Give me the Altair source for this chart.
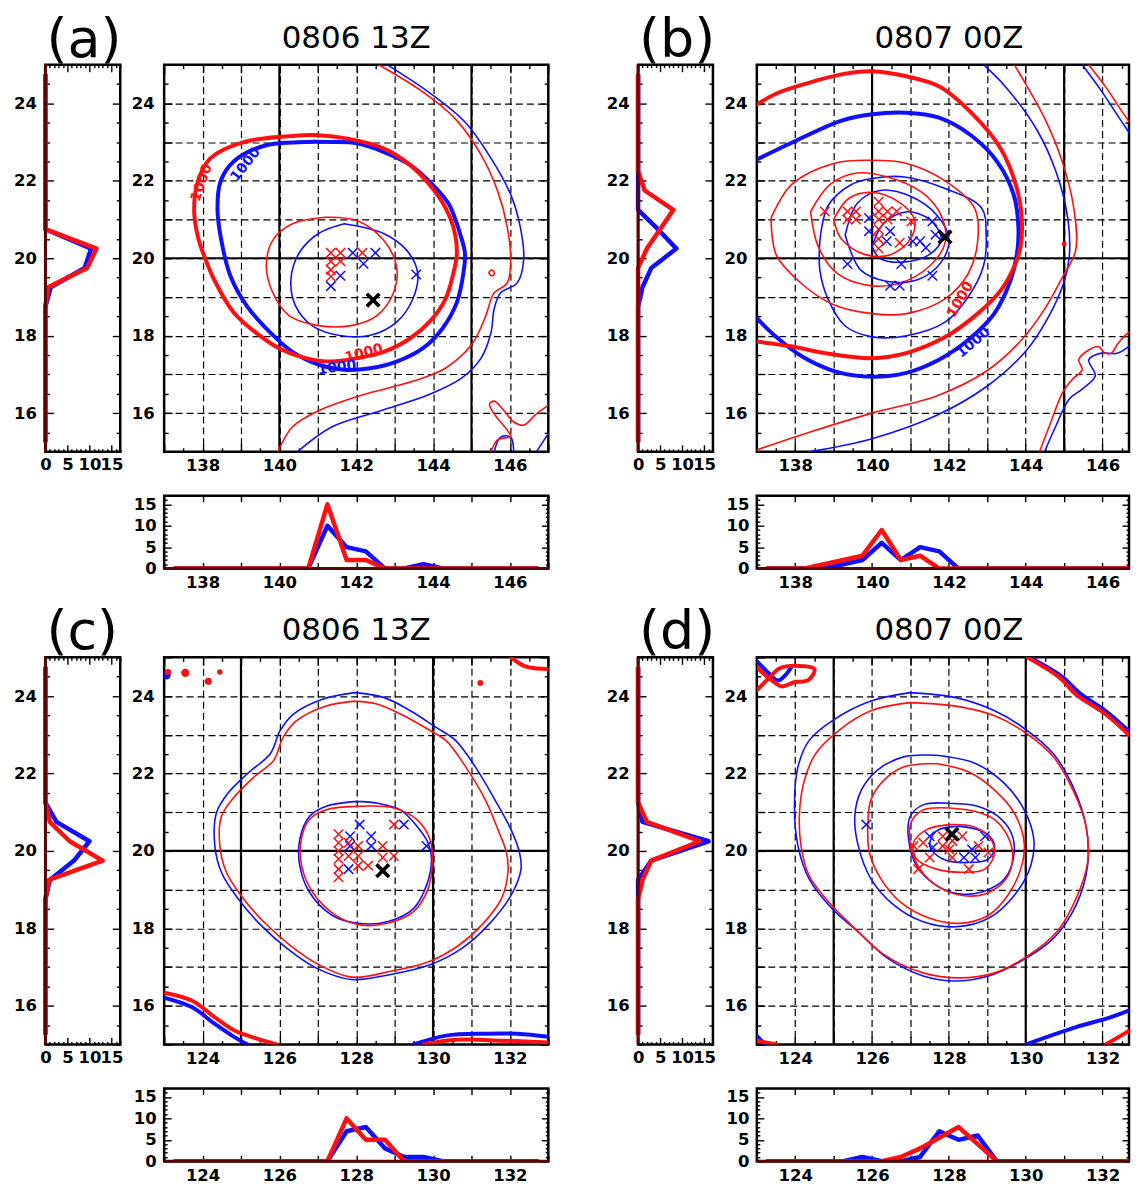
import altair as alt
import pandas as pd

RED = "#ff1010"
BLUE = "#1010ff"
BASE = "#5a0505"
LF = "DejaVu Sans"
W, H, HW, BH = 385, 388, 75, 73
WR = 373          # right-hand panels, cropped by the page edge as in the reference
THICK, THIN, HLW = 4.0, 1.6, 4.5
XPATH = "M-1,-1L1,1M-1,1L1,-1"

# ---------------- panel (a) ----------------
A_R_THICK = [(140.34,23.16),(139.07,23.0),(138.2,22.58),(137.88,21.99),(137.78,21.23),(137.88,20.55),(138.05,20.04),(138.3,19.45),(138.81,18.6),(139.49,18.0),(140.0,17.67),(140.68,17.42),(141.36,17.33),(142.03,17.42),(142.71,17.58),(143.39,17.92),(143.9,18.35),(144.32,18.94),(144.53,19.62),(144.62,20.13),(144.53,20.8),(144.32,21.31),(143.9,21.91),(143.39,22.42),(142.71,22.84),(141.78,23.09),(141.02,23.18),(140.34,23.16)]
A_B_THICK = [(141.36,23.0),(139.66,22.92),(138.81,22.5),(138.47,21.99),(138.39,21.23),(138.52,20.3),(138.73,19.53),(139.15,18.77),(139.75,18.09),(140.34,17.58),(141.02,17.25),(141.69,17.12),(142.37,17.16),(143.05,17.33),(143.73,17.67),(144.24,18.18),(144.62,18.86),(144.79,19.62),(144.83,20.13),(144.7,20.64),(144.62,20.89),(144.41,21.4),(143.98,21.91),(143.39,22.42),(142.71,22.75),(142.03,22.97),(141.36,23.0)]
A_R_IN = [(141.19,21.06),(142.03,20.97),(142.71,20.47),(143.05,19.79),(142.97,19.11),(142.54,18.52),(141.86,18.26),(141.02,18.26),(140.25,18.52),(139.83,19.11),(139.66,19.79),(139.83,20.47),(140.34,20.89),(141.19,21.06)]
A_B_IN = [(141.69,20.89),(142.71,20.64),(143.31,20.21),(143.6,19.62),(143.47,18.94),(143.05,18.35),(142.37,18.01),(141.53,18.01),(140.85,18.26),(140.42,18.77),(140.3,19.45),(140.51,20.13),(141.02,20.64),(141.69,20.89)]
A_R_OUT = [(142.58,25.0),(143.64,24.36),(144.58,23.6),(145.25,22.67),(145.68,21.74),(145.93,20.81),(146.02,19.96),(145.93,19.36),(145.59,19.11),(145.51,18.94),(145.34,18.43),(144.99,17.75),(144.32,17.16),(143.47,16.82),(142.2,16.48),(141.02,16.06),(140.34,15.64),(139.96,15.0)]
A_B_OUT = [(142.8,25.0),(143.9,24.28),(144.83,23.52),(145.51,22.58),(146.02,21.65),(146.27,20.81),(146.36,19.96),(146.19,19.36),(145.76,19.11),(145.59,18.69),(145.51,18.09),(145.25,17.42),(144.75,16.91),(143.9,16.48),(142.63,16.06),(141.36,15.64),(140.47,15.0)]
A_R_SE = [(147.0,16.2),(146.69,15.98),(146.36,15.69),(146.1,15.77),(145.85,16.06),(145.59,16.31),(145.47,16.23),(145.59,15.98),(145.93,15.56),(146.02,15.4),(145.68,15.31),(145.51,15.0)]
A_B_SE1 = [(145.59,15.0),(145.76,15.38),(146.02,15.38),(146.1,15.0)]
A_B_SE2 = [(146.69,15.0),(147.0,15.47)]
A_R_LOOP = [(145.45,19.62),(145.5,19.69),(145.58,19.66),(145.59,19.58),(145.52,19.55),(145.45,19.62)]
A_RED_X = [(141.34,20.14),(141.59,20.14),(142.16,20.14),(141.34,19.92),(141.59,19.92),(141.34,19.70),(141.34,19.53)]
A_BLUE_X = [(141.91,20.14),(142.5,20.14),(142.19,19.86),(141.59,19.55),(141.34,19.28),(143.56,19.58)]
A_BLACK = (142.44, 18.92)
A_TEXT = [(137.98,21.95,290,RED),(139.12,22.42,308,BLUE),(142.2,17.54,345,RED),(141.5,17.17,352,BLUE)]

# ---------------- panel (b) ----------------
B_R_THICK = [(137.0,23.97),(137.5,24.25),(138.35,24.53),(139.2,24.75),(140.0,24.83),(140.89,24.7),(141.74,24.44),(142.58,23.76),(143.35,22.83),(143.77,21.8),(143.9,20.95),(143.86,20.27),(143.69,19.76),(143.35,19.17),(142.75,18.57),(141.91,17.97),(140.89,17.55),(140.0,17.42),(138.77,17.55),(137.92,17.72),(137.0,17.85)]
B_B_THICK = [(137.0,22.55),(137.92,22.99),(139.19,23.55),(140.0,23.72),(140.89,23.76),(141.74,23.63),(142.58,23.17),(143.26,22.49),(143.69,21.63),(143.81,20.78),(143.77,20.1),(143.6,19.42),(143.18,18.57),(142.5,17.89),(141.74,17.38),(140.89,17.04),(140.0,16.94),(139.03,17.08),(138.18,17.46),(137.5,17.97),(137.0,18.45)]
B_R_RING1 = [(137.37,21.04),(137.9,21.9),(139.0,22.45),(140.0,22.53),(140.9,22.45),(141.9,22.0),(142.67,21.29),(142.75,20.45),(142.5,19.6),(141.9,18.95),(140.9,18.57),(140.0,18.57),(139.0,18.8),(138.1,19.4),(137.5,20.1),(137.37,21.04)]
B_B_RING1 = [(138.64,20.44),(138.85,21.35),(139.45,21.9),(140.0,22.06),(140.85,22.1),(141.9,21.8),(142.85,21.3),(142.97,20.6),(142.9,19.8),(142.5,19.0),(141.9,18.35),(140.9,18.0),(140.0,17.97),(139.3,18.25),(138.85,18.95),(138.64,19.7),(138.64,20.44)]
B_R_RING2 = [(138.4,21.2),(138.9,21.9),(139.6,22.2),(140.4,22.1),(141.3,21.7),(141.8,21.1),(141.9,20.4),(141.5,19.8),(140.7,19.35),(139.9,19.3),(139.1,19.6),(138.6,20.3),(138.4,21.2)]
B_B_RING2 = [(139.3,20.6),(139.6,21.4),(140.2,21.75),(141.0,21.6),(141.7,21.1),(142.0,20.5),(141.8,19.9),(141.2,19.45),(140.4,19.4),(139.7,19.7),(139.3,20.6)]
B_R_RING3 = [(139.0,21.0),(139.4,21.55),(140.0,21.7),(140.7,21.45),(141.1,21.0),(141.0,20.5),(140.5,20.1),(139.8,20.1),(139.2,20.5),(139.0,21.0)]
B_B_RING3 = [(140.0,20.3),(140.3,20.9),(140.9,21.2),(141.5,21.0),(141.8,20.5),(141.5,20.1),(140.8,19.9),(140.2,20.0),(140.0,20.3)]
B_R_OUT = [(137.0,15.05),(138.35,15.5),(140.0,16.0),(141.7,16.45),(143.0,17.1),(143.9,17.9),(144.5,18.7),(144.95,19.5),(145.3,20.2),(145.25,21.3),(144.95,22.5),(144.5,23.6),(144.0,24.5),(143.7,25.0)]
B_B_OUT = [(138.35,15.0),(140.0,15.34),(141.7,15.95),(143.0,16.7),(144.0,17.6),(144.6,18.5),(145.0,19.4),(145.13,20.0),(145.1,21.0),(144.8,22.2),(144.3,23.3),(143.5,24.4),(142.9,25.0)]
B_R_NE = [(145.64,25.0),(146.1,24.4),(146.5,23.8),(147.0,23.1)]
B_B_NE = [(145.47,25.0),(145.95,24.35),(146.45,23.6),(147.0,22.8)]
B_R_SE = [(144.36,15.0),(144.62,15.68),(144.96,16.53),(145.21,16.87),(145.47,17.12),(145.38,17.38),(145.64,17.63),(145.89,17.72),(146.06,17.55),(146.23,17.55),(146.4,17.8),(146.65,18.06),(147.0,18.3)]
B_B_SE = [(144.49,15.0),(144.79,15.68),(145.13,16.36),(145.47,16.62),(145.81,16.96),(145.64,17.38),(145.97,17.55),(146.4,17.55),(147.0,18.0)]
B_RED_X = [(138.77,21.21),(139.36,21.21),(139.58,21.21),(139.36,21.0),(139.58,21.0),(140.17,21.46),(140.17,21.21),(140.17,21.0),(140.17,20.75),(140.17,20.5),(140.17,20.25),(140.4,21.21),(140.4,21.0),(140.64,21.21),(141.02,20.95),(140.72,20.4)]
B_BLUE_X = [(139.92,21.04),(139.92,20.7),(140.47,20.7),(140.38,20.44),(141.06,20.44),(141.25,20.44),(141.4,20.27),(141.57,20.95),(141.65,20.61),(139.36,19.85),(140.76,19.85),(140.47,19.29),(140.72,19.29),(141.57,19.55)]
B_BLACK = (141.9, 20.55)
B_TEXT = [(142.3,18.93,300,RED),(142.64,17.82,320,BLUE)]
B_DOTS = [(145.0,20.37,RED,25)]

# ---------------- panel (c) ----------------
C_B_OUT = [(127.97,24.09),(127.12,23.92),(126.36,23.53),(126.02,23.11),(125.76,22.51),(125.17,22.0),(124.66,21.49),(124.36,20.98),(124.32,20.13),(124.49,19.45),(124.92,18.77),(125.51,18.09),(126.19,17.49),(126.95,16.98),(127.88,16.68),(128.9,16.81),(129.92,17.06),(130.76,17.49),(131.44,18.09),(132.03,18.85),(132.29,19.53),(132.25,19.96),(132.03,20.55),(131.61,21.32),(131.1,22.17),(130.59,22.85),(130.08,23.19),(129.41,23.62),(128.73,23.96),(127.97,24.09)]
C_R_OUT = [(127.97,23.87),(127.2,23.74),(126.44,23.36),(126.1,22.94),(125.85,22.34),(125.34,21.91),(124.83,21.4),(124.49,20.89),(124.45,20.13),(124.62,19.45),(125.0,18.85),(125.59,18.17),(126.27,17.57),(127.03,17.06),(127.88,16.74),(128.9,16.89),(129.92,17.15),(130.68,17.57),(131.27,18.09),(131.78,18.77),(131.95,19.45),(131.91,19.96),(131.69,20.55),(131.36,21.32),(130.85,22.17),(130.34,22.85),(129.92,23.11),(129.24,23.49),(128.56,23.79),(127.97,23.87)]
C_B_IN = [(128.01,21.28),(127.2,21.15),(126.78,20.89),(126.53,20.3),(126.53,19.62),(126.78,18.94),(127.37,18.34),(128.05,18.13),(128.81,18.17),(129.49,18.51),(129.83,19.11),(129.96,19.79),(129.87,20.21),(129.58,20.64),(129.15,21.06),(128.56,21.23),(128.01,21.28)]
C_R_IN = [(127.97,21.15),(127.2,21.06),(126.78,20.81),(126.57,20.3),(126.58,19.62),(126.86,18.94),(127.46,18.34),(128.09,18.09),(128.81,18.13),(129.49,18.43),(129.87,19.02),(129.98,19.7),(129.92,20.3),(129.58,20.81),(128.98,21.11),(127.97,21.15)]
C_R_SW = [(123.0,16.34),(123.73,16.13),(124.32,15.7),(124.83,15.36),(125.42,15.15),(125.93,15.0)]
C_B_SW = [(123.0,16.21),(123.73,15.96),(124.32,15.53),(124.83,15.19),(125.17,15.0)]
C_B_SE = [(129.49,15.0),(130.34,15.23),(131.36,15.28),(132.2,15.28),(133.0,15.2)]
C_R_SE = [(129.75,15.0),(130.6,15.12),(131.8,15.1),(133.0,15.05)]
C_R_NE = [(132.03,25.0),(132.4,24.77),(133.0,24.7)]
C_RED_X = [(127.54,20.43),(127.54,20.21),(127.54,20.0),(127.54,19.79),(127.54,19.53),(127.54,19.32),(127.8,20.21),(127.8,19.87),(128.05,20.13),(128.05,19.87),(128.05,19.62),(128.31,19.62),(128.69,20.13),(128.69,19.83),(128.98,19.87),(128.98,20.68)]
C_BLUE_X = [(127.84,20.38),(128.09,20.68),(128.39,20.38),(127.84,20.13),(128.39,20.13),(127.8,19.53),(129.24,20.68),(129.83,20.13)]
C_BLACK = (128.69, 19.49)
C_DOTS = [(123.05,24.55,BLUE,90),(123.1,24.62,RED,40),(123.55,24.6,RED,70),(124.15,24.38,RED,50),(124.45,24.62,RED,30),(131.23,24.34,RED,35)]

# ---------------- panel (d) ----------------
D_B_OUT = [(126.99,24.09),(125.97,23.87),(124.96,23.36),(124.36,22.85),(124.07,22.17),(123.98,21.15),(124.07,20.13),(124.36,19.28),(124.96,18.51),(125.64,17.91),(126.4,17.23),(127.33,16.77),(128.18,16.64),(129.03,16.77),(129.87,17.15),(130.72,17.74),(131.31,18.6),(131.61,19.62),(131.57,20.64),(131.23,21.66),(130.72,22.51),(130.04,23.11),(129.19,23.62),(128.18,23.96),(126.99,24.09)]
D_R_OUT = [(126.99,23.83),(125.97,23.62),(125.13,23.11),(124.53,22.51),(124.24,21.83),(124.11,20.98),(124.15,20.13),(124.36,19.36),(124.87,18.68),(125.55,18.0),(126.31,17.32),(127.33,16.85),(128.26,16.72),(129.19,16.85),(130.04,17.28),(130.81,17.91),(131.31,18.77),(131.61,19.7),(131.57,20.64),(131.23,21.57),(130.72,22.43),(130.04,23.02),(129.19,23.49),(128.18,23.74),(126.99,23.83)]
D_B_MID = [(127.67,22.47),(126.82,22.43),(126.14,22.09),(125.72,21.57),(125.55,20.89),(125.64,20.13),(125.97,19.28),(126.57,18.6),(127.33,18.17),(128.18,18.04),(129.03,18.26),(129.7,18.85),(130.13,19.62),(130.21,20.3),(129.96,21.06),(129.45,21.74),(128.69,22.26),(127.67,22.47)]
D_R_MID = [(127.67,22.26),(126.82,22.17),(126.31,21.83),(125.97,21.32),(125.89,20.64),(125.93,19.96),(126.23,19.28),(126.74,18.68),(127.5,18.26),(128.26,18.13),(129.03,18.34),(129.53,18.85),(129.87,19.53),(129.96,20.21),(129.7,20.98),(129.19,21.57),(128.52,22.04),(127.67,22.26)]
D_B_IN = [(128.01,21.23),(127.33,21.19),(126.99,20.89),(126.95,20.3),(127.16,19.62),(127.67,19.11),(128.26,18.89),(128.86,18.94),(129.45,19.28),(129.7,19.96),(129.62,20.47),(129.28,20.89),(128.77,21.15),(128.01,21.23)]
D_R_IN = [(128.01,21.11),(127.33,21.06),(127.03,20.77),(126.99,20.21),(127.25,19.53),(127.75,19.06),(128.35,18.85),(128.94,18.89),(129.49,19.28),(129.66,19.87),(129.53,20.38),(129.19,20.81),(128.69,21.02),(128.01,21.11)]
D_R_CORE = [(128.01,20.68),(127.42,20.55),(127.08,20.21),(127.16,19.79),(127.67,19.53),(128.35,19.45),(128.94,19.53),(129.19,19.96),(129.03,20.38),(128.6,20.64),(128.01,20.68)]
D_B_CORE = [(128.26,20.64),(127.67,20.51),(127.5,20.13),(127.84,19.79),(128.52,19.7),(129.03,19.79),(129.19,20.13),(128.94,20.47),(128.26,20.64)]
D_R_NE = [(130.04,25.0),(130.89,24.47),(131.31,24.04),(132.08,23.53),(132.76,22.94),(133.0,22.75)]
D_B_NE = [(130.1,25.0),(130.95,24.5),(131.4,24.08),(132.1,23.6),(132.8,23.0),(133.0,22.85)]
D_B_SE = [(130.0,15.0),(131.31,15.45),(132.2,15.7),(133.0,16.0)]
D_R_SE = [(132.08,15.0),(132.6,15.3),(133.0,15.55)]
D_R_NW = [(123.0,24.15),(123.3,24.45),(123.6,24.72),(124.1,24.78),(124.5,24.7),(124.35,24.42),(123.95,24.35),(123.65,24.25),(123.4,24.4),(123.15,24.6),(123.0,24.75)]
D_B_NW = [(123.0,24.9),(123.3,24.6),(123.55,24.4),(123.75,24.55),(123.9,24.75)]
D_R_SW = [(123.0,15.1),(123.5,15.0)]
D_B_SW = [(123.0,15.22),(123.2,15.02)]
D_RED_X = [(127.08,20.13),(127.33,20.21),(127.5,19.83),(127.2,19.53),(127.84,20.38),(128.09,20.26),(128.35,20.38),(128.09,19.83),(128.52,19.53),(128.77,20.13),(129.03,19.96),(128.01,20.04),(127.84,20.13)]
D_BLUE_X = [(125.85,20.68),(127.5,20.38),(127.58,20.09),(128.6,20.04),(128.39,19.83),(128.69,19.83),(128.94,20.38)]
D_BLACK = (128.08, 20.43)

# ---------------- histograms (bin centres every 0.5 deg) ----------------
LAT_BINS = [15.25,15.75,16.25,16.75,17.25,17.75,18.25,18.75,19.25,19.75,20.25,20.75,21.25,21.75,22.25,22.75,23.25,23.75,24.25,24.75]
LON_BINS_AB = [137.25,137.75,138.25,138.75,139.25,139.75,140.25,140.75,141.25,141.75,142.25,142.75,143.25,143.75,144.25,144.75,145.25,145.75,146.25,146.75]
LON_BINS_CD = [123.25,123.75,124.25,124.75,125.25,125.75,126.25,126.75,127.25,127.75,128.25,128.75,129.25,129.75,130.25,130.75,131.25,131.75,132.25,132.75]

A_BOT_RED  = [0,0,0,0,0,0,0,0,15,2,2,0,0,0,0,0,0,0,0,0]
A_BOT_BLUE = [0,0,0,0,0,0,0,0,10,5,4,0,0,1,0,0,0,0,0,0]
B_BOT_RED  = [0,0,0,1,2,3,9,2,3,0,0,0,0,0,0,0,0,0,0,0]
B_BOT_BLUE = [0,0,0,0,1,2,6,2,5,4,0,0,0,0,0,0,0,0,0,0]
C_BOT_RED  = [0,0,0,0,0,0,0,0,0,10,5,5,0,0,0,0,0,0,0,0]
C_BOT_BLUE = [0,0,0,0,0,0,0,0,0,7,8,3,1,1,0,0,0,0,0,0]
D_BOT_RED  = [0,0,0,0,0,0,0,1,3,5.5,8,4,0,0,0,0,0,0,0,0]
D_BOT_BLUE = [0,0,0,0,0,1,0,0,1,7,5,6,0,0,0,0,0,0,0,0]

A_LEFT_RED  = [0,0,0,0,0,0,0,0,0.6,9.5,11.6,0,0,0,0,0,0,0,0,0]
A_LEFT_BLUE = [0,0,0,0,0,0,0,0,1.2,8.9,10.4,0,0,0,0,0,0,0,0,0]
B_LEFT_RED  = [0,0,0,0,0,0,0,0,0,0,2,5,8,1.5,0,0,0,0,0,0]
B_LEFT_BLUE = [0,0,0,0,0,0,0,0,1,3,8.7,4.5,0,0,0,0,0,0,0,0]
C_LEFT_RED  = [0,0,0,0,0,0,0,0,0.8,13,5.5,1,0,0,0,0,0,0,0,0]
C_LEFT_BLUE = [0,0,0,0,0,0,0,0,1,6.5,10,2.5,0,0,0,0,0,0,0,0]
D_LEFT_RED  = [0,0,0,0,0,0,0,0,1,3,14,2,0,0,0,0,0,0,0,0]
D_LEFT_BLUE = [0,0,0,0,0,0,0,0,0,3,16,1,0,0,0,0,0,0,0,0]

PANEL_LABELS = ["(a)", "(b)", "(c)", "(d)"]
PANEL_TIMES = ["0806 13Z", "0807 00Z", "0806 13Z", "0807 00Z"]

MAIN_TICK = {"condition": {"test": "datum.value % 1 === 0", "value": 8}, "value": 4}
LAT2_TICK = {"condition": {"test": "datum.value % 2 === 0", "value": 8}, "value": 4}
CNT5_TICK = {"condition": {"test": "datum.value % 5 === 0", "value": 7}, "value": 3}
EVEN = "datum.value % 2 === 0 ? datum.label : ''"


def label_axis(orient, vals, expr=None, grid=False, pad=8):
    kw = dict(orient=orient, values=vals, ticks=False, domain=False, grid=grid,
              labelFont=LF, labelFontSize=16.5, labelFontWeight="bold", labelColor="black",
              labelPadding=pad, labelOverlap=False, labelFlush=False, title=None)
    if expr is not None:
        kw["labelExpr"] = expr
    if grid:
        kw.update(gridDash=[7, 4], gridColor="black", gridWidth=1.2, gridOpacity=1)
    return alt.Axis(**kw)


def tick_axis(orient, vals, off, size):
    return alt.Axis(orient=orient, offset=off, values=vals, labels=False, domain=False,
                    grid=False, ticks=True, tickSize=size, tickColor="black",
                    tickWidth=1.4, title=None)


def contour_df(items):
    rows = []
    for cid, (pts, col, w) in enumerate(items):
        for k, (lon, lat) in enumerate(pts):
            rows.append({"id": cid, "o": k, "lon": lon, "lat": lat, "c": col, "w": w})
    return pd.DataFrame(rows)


def pts_df(pts, col):
    return pd.DataFrame({"lon": [p[0] for p in pts], "lat": [p[1] for p in pts], "c": col})


def main_panel(title, x0, w, items, red_x, blue_x, black, solid, dots=None, texts=None):
    x1 = x0 + 10.0 * w / W
    xs = alt.Scale(domain=[x0, x1], nice=False, zero=False)
    ys = alt.Scale(domain=[15, 25], nice=False, zero=False)
    xt = [x0 + 0.5 * i for i in range(21) if x0 + 0.5 * i <= x1 + 1e-9]
    yt = [15 + 0.5 * i for i in range(21)]
    vr = alt.Chart(pd.DataFrame({"v": solid})).mark_rule(color="black", strokeWidth=2.2).encode(
        x=alt.X("v:Q", scale=xs, axis=tick_axis("top", xt, -H, MAIN_TICK)))
    hr = alt.Chart(pd.DataFrame({"v": [20]})).mark_rule(color="black", strokeWidth=2.2).encode(
        y=alt.Y("v:Q", scale=ys, axis=tick_axis("right", yt, -w, MAIN_TICK)))
    cont = alt.Chart(contour_df(items)).mark_line(
        interpolate="catmull-rom", strokeJoin="round", strokeCap="round", clip=True).encode(
        x=alt.X("lon:Q", scale=xs, axis=label_axis("bottom", list(range(x0 + 1, x0 + 10)), EVEN, True, 6)),
        y=alt.Y("lat:Q", scale=ys, axis=label_axis("left", list(range(16, 25)), EVEN, True, 10)),
        color=alt.Color("c:N", scale=None),
        strokeWidth=alt.StrokeWidth("w:Q", scale=None),
        detail="id:N", order="o:Q")
    xm = pd.concat([pts_df(blue_x, BLUE), pts_df(red_x, RED)], ignore_index=True)
    mk = alt.Chart(xm).mark_point(shape=XPATH, filled=False, size=90, strokeWidth=1.5, opacity=1).encode(
        x=alt.X("lon:Q", scale=xs, axis=tick_axis("bottom", xt, -H, MAIN_TICK)),
        y=alt.Y("lat:Q", scale=ys, axis=tick_axis("left", yt, -w, MAIN_TICK)),
        color=alt.Color("c:N", scale=None))
    bk = alt.Chart(pts_df([black], "black")).mark_point(
        shape=XPATH, filled=False, size=160, strokeWidth=3.6, color="black", opacity=1).encode(
        x=alt.X("lon:Q", scale=xs, axis=None), y=alt.Y("lat:Q", scale=ys, axis=None))
    ttl = alt.Chart(pd.DataFrame({"lon": [x0 + 5], "lat": [25], "t": [title]})).mark_text(
        font=LF, fontSize=31, fontWeight="normal", color="black", align="center",
        baseline="alphabetic", dy=-17).encode(
        x=alt.X("lon:Q", scale=xs, axis=None), y=alt.Y("lat:Q", scale=ys, axis=None), text="t:N")
    layers = [vr, hr, cont, mk, bk, ttl]
    if dots:
        dd = pd.DataFrame({"lon": [d[0] for d in dots], "lat": [d[1] for d in dots],
                           "c": [d[2] for d in dots], "s": [d[3] for d in dots]})
        layers.append(alt.Chart(dd).mark_circle(opacity=1, clip=True).encode(
            x=alt.X("lon:Q", scale=xs, axis=None), y=alt.Y("lat:Q", scale=ys, axis=None),
            color=alt.Color("c:N", scale=None), size=alt.Size("s:Q", scale=None)))
    if texts:
        td = pd.DataFrame({"lon": [t[0] for t in texts], "lat": [t[1] for t in texts],
                           "a": [t[2] for t in texts], "c": [t[3] for t in texts], "t": "1000"})
        layers.append(alt.Chart(td).mark_text(font=LF, fontWeight="bold", fontSize=14).encode(
            x=alt.X("lon:Q", scale=xs, axis=None), y=alt.Y("lat:Q", scale=ys, axis=None),
            text="t:N", angle=alt.Angle("a:Q", scale=None), color=alt.Color("c:N", scale=None)))
    return alt.layer(*layers).resolve_axis(x="independent", y="independent").properties(width=w, height=H)


def left_hist(label, red, blue):
    xs = alt.Scale(domain=[0, 17], nice=False, zero=False)
    ys = alt.Scale(domain=[15, 25], nice=False, zero=False)
    xt = list(range(18))
    yt = [15 + 0.5 * i for i in range(21)]
    bl = alt.Chart(pd.DataFrame({"lat": LAT_BINS, "v": blue})).mark_line(
        color=BLUE, strokeWidth=HLW, strokeJoin="round").encode(
        x=alt.X("v:Q", scale=xs, axis=label_axis("bottom", [0, 5, 10, 15], pad=5)),
        y=alt.Y("lat:Q", scale=ys, axis=label_axis("left", [16, 18, 20, 22, 24], pad=9)),
        order="lat:Q")
    rd = alt.Chart(pd.DataFrame({"lat": LAT_BINS, "v": red})).mark_line(
        color=RED, strokeWidth=HLW, strokeJoin="round").encode(
        x=alt.X("v:Q", scale=xs, axis=tick_axis("top", xt, -H, CNT5_TICK)),
        y=alt.Y("lat:Q", scale=ys, axis=tick_axis("right", yt, -HW, LAT2_TICK)),
        order="lat:Q")
    base = alt.Chart(pd.DataFrame({"x": [0], "y1": [15], "y2": [25]})).mark_rule(
        color=BASE, strokeWidth=3).encode(
        x=alt.X("x:Q", scale=xs, axis=tick_axis("bottom", xt, -H, CNT5_TICK)),
        y=alt.Y("y1:Q", scale=ys, axis=tick_axis("left", yt, -HW, LAT2_TICK)),
        y2="y2:Q")
    ttl = alt.Chart(pd.DataFrame({"x": [0], "y": [25], "t": [label]})).mark_text(
        font=LF, fontSize=54, fontWeight="normal", color="black", align="left",
        baseline="alphabetic", dy=-8, dx=1).encode(
        x=alt.X("x:Q", scale=xs, axis=None), y=alt.Y("y:Q", scale=ys, axis=None), text="t:N")
    return alt.layer(bl, rd, base, ttl).resolve_axis(x="independent", y="independent").properties(
        width=HW, height=H)


def bottom_hist(x0, w, bins, red, blue, pad):
    x1 = x0 + 10.0 * w / W
    xs = alt.Scale(domain=[x0, x1], nice=False, zero=False)
    ys = alt.Scale(domain=[0, 17], nice=False, zero=False)
    xt = [v for v in range(x0, x0 + 11) if v <= x1 + 1e-9]
    yt = list(range(18))
    bl = alt.Chart(pd.DataFrame({"lon": bins, "v": blue})).mark_line(
        color=BLUE, strokeWidth=HLW, strokeJoin="round", clip=True).encode(
        x=alt.X("lon:Q", scale=xs, axis=label_axis("bottom", list(range(x0 + 1, x0 + 10, 2)), pad=pad)),
        y=alt.Y("v:Q", scale=ys, axis=label_axis("left", [0, 5, 10, 15], pad=8)))
    rd = alt.Chart(pd.DataFrame({"lon": bins, "v": red})).mark_line(
        color=RED, strokeWidth=HLW, strokeJoin="round", clip=True).encode(
        x=alt.X("lon:Q", scale=xs, axis=tick_axis("top", xt, -BH, 6)),
        y=alt.Y("v:Q", scale=ys, axis=tick_axis("right", yt, -w, CNT5_TICK)))
    base = alt.Chart(pd.DataFrame({"a": [x0], "b": [x1], "y": [0]})).mark_rule(
        color=BASE, strokeWidth=3).encode(
        x=alt.X("a:Q", scale=xs, axis=tick_axis("bottom", xt, -BH, 6)), x2="b:Q",
        y=alt.Y("y:Q", scale=ys, axis=tick_axis("left", yt, -w, CNT5_TICK)))
    return alt.layer(bl, rd, base).resolve_axis(x="independent", y="independent").properties(
        width=w, height=BH)


def spacer(w, h):
    return alt.Chart(pd.DataFrame({"a": [0]})).mark_point(opacity=0).encode(
        x=alt.X("a:Q", axis=None), y=alt.Y("a:Q", axis=None)).properties(
        width=w, height=h, view=alt.ViewBackground(stroke="transparent"))


items_a = [(A_B_OUT, BLUE, THIN), (A_R_OUT, RED, THIN), (A_B_SE1, BLUE, THIN), (A_B_SE2, BLUE, THIN),
           (A_R_SE, RED, THIN), (A_R_LOOP, RED, THIN), (A_B_THICK, BLUE, THICK), (A_R_THICK, RED, THICK),
           (A_B_IN, BLUE, THIN), (A_R_IN, RED, THIN)]
items_b = [(B_B_OUT, BLUE, THIN), (B_R_OUT, RED, THIN), (B_B_NE, BLUE, THIN), (B_R_NE, RED, THIN),
           (B_B_SE, BLUE, THIN), (B_R_SE, RED, THIN), (B_B_THICK, BLUE, THICK), (B_R_THICK, RED, THICK),
           (B_B_RING1, BLUE, THIN), (B_R_RING1, RED, THIN), (B_B_RING2, BLUE, THIN), (B_R_RING2, RED, THIN),
           (B_B_RING3, BLUE, THIN), (B_R_RING3, RED, THIN)]
items_c = [(C_B_OUT, BLUE, THIN), (C_R_OUT, RED, THIN), (C_B_IN, BLUE, THIN), (C_R_IN, RED, THIN),
           (C_B_SW, BLUE, THICK), (C_R_SW, RED, THICK), (C_B_SE, BLUE, THICK), (C_R_SE, RED, THICK),
           (C_R_NE, RED, THICK)]
items_d = [(D_B_OUT, BLUE, THIN), (D_R_OUT, RED, THIN), (D_B_MID, BLUE, THIN), (D_R_MID, RED, THIN),
           (D_B_IN, BLUE, THIN), (D_R_IN, RED, THIN), (D_B_CORE, BLUE, THIN), (D_R_CORE, RED, THIN),
           (D_B_NE, BLUE, THICK), (D_R_NE, RED, THICK), (D_B_SE, BLUE, THICK), (D_R_SE, RED, THICK),
           (D_B_NW, BLUE, THICK), (D_R_NW, RED, THICK), (D_B_SW, BLUE, THICK), (D_R_SW, RED, THICK)]

main_a = main_panel(PANEL_TIMES[0], 137, W, items_a, A_RED_X, A_BLUE_X, A_BLACK, [140, 145], texts=A_TEXT)
main_b = main_panel(PANEL_TIMES[1], 137, WR, items_b, B_RED_X, B_BLUE_X, B_BLACK, [140, 145], dots=B_DOTS, texts=B_TEXT)
main_c = main_panel(PANEL_TIMES[2], 123, W, items_c, C_RED_X, C_BLUE_X, C_BLACK, [125, 130], dots=C_DOTS)
main_d = main_panel(PANEL_TIMES[3], 123, WR, items_d, D_RED_X, D_BLUE_X, D_BLACK, [125, 130])

cells = [
    left_hist(PANEL_LABELS[0], A_LEFT_RED, A_LEFT_BLUE), main_a, spacer(2, H),
    left_hist(PANEL_LABELS[1], B_LEFT_RED, B_LEFT_BLUE), main_b,
    spacer(HW, BH), bottom_hist(137, W, LON_BINS_AB, A_BOT_RED, A_BOT_BLUE, 6), spacer(2, BH), spacer(HW, BH),
    bottom_hist(137, WR, LON_BINS_AB, B_BOT_RED, B_BOT_BLUE, 6),
    spacer(HW, 1), spacer(W, 1), spacer(2, 1), spacer(HW, 1), spacer(WR, 1),
    left_hist(PANEL_LABELS[2], C_LEFT_RED, C_LEFT_BLUE), main_c, spacer(2, H),
    left_hist(PANEL_LABELS[3], D_LEFT_RED, D_LEFT_BLUE), main_d,
    spacer(HW, BH), bottom_hist(123, W, LON_BINS_CD, C_BOT_RED, C_BOT_BLUE, 6), spacer(2, BH), spacer(HW, BH),
    bottom_hist(123, WR, LON_BINS_CD, D_BOT_RED, D_BOT_BLUE, 6),
]

chart = alt.concat(*cells, columns=5, spacing=44, bounds="flush", align="each").properties(
    padding={"left": 3.5, "top": 2.5, "right": 0, "bottom": 0}, background="white"
).configure_view(stroke="black", strokeWidth=2.5)

chart.save("out.html", embed_options={"renderer": "svg", "actions": False})
